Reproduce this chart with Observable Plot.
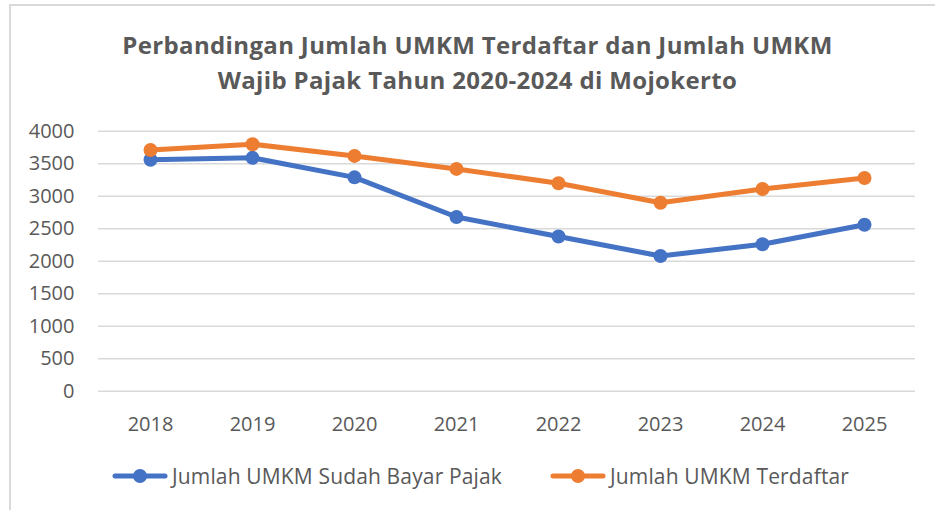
<!DOCTYPE html>
<html>
<head>
<meta charset="utf-8">
<script src="https://cdn.jsdelivr.net/npm/d3@7"></script>
<script src="https://cdn.jsdelivr.net/npm/@observablehq/plot@0.6"></script>
<style>
  html, body { margin: 0; padding: 0; background: #fff; }
  #wrap { position: relative; width: 935px; height: 510px; overflow: hidden; font-family: "Open Sans", sans-serif; }
  #frame { position: absolute; left: 9px; top: 4px; width: 1000px; height: 600px; border-left: 2px solid #d9d9d9; border-top: 2px solid #d9d9d9; box-sizing: border-box; }
  #title { position: absolute; left: 20px; top: 27px; width: 915px; text-align: center; font-weight: 700; font-size: 24px; letter-spacing: 0.35px; line-height: 35px; color: #595959; }
  #chart { position: absolute; left: 0; top: 110px; }
  .leg { position: absolute; top: 462px; height: 28px; display: flex; align-items: center; font-size: 21px; letter-spacing: 0.15px; color: #595959; white-space: nowrap; }
  .leg svg { display: block; margin-right: 4px; }
</style>
</head>
<body>
<div id="wrap">
  <div id="frame"></div>
  <div id="title">Perbandingan Jumlah UMKM Terdaftar dan Jumlah UMKM<br>Wajib Pajak Tahun 2020-2024 di Mojokerto</div>
  <div id="chart"></div>
  <div id="legend"></div>
</div>
<script>
const years = ["2018", "2019", "2020", "2021", "2022", "2023", "2024", "2025"];
const sudahBayar = [3560, 3590, 3290, 2680, 2380, 2080, 2260, 2560];
const terdaftar = [3710, 3800, 3620, 3420, 3200, 2900, 3110, 3280];
const yTicks = [0, 500, 1000, 1500, 2000, 2500, 3000, 3500, 4000];
const seriesNames = ["Jumlah UMKM Sudah Bayar Pajak", "Jumlah UMKM Terdaftar"];
const seriesColors = ["#4472C4", "#ED7D31"];

const rows = [];
years.forEach((y, i) => rows.push({year: y, value: sudahBayar[i], series: seriesNames[0]}));
years.forEach((y, i) => rows.push({year: y, value: terdaftar[i], series: seriesNames[1]}));

const chart = Plot.plot({
  width: 935,
  height: 340,
  marginLeft: 98,
  marginRight: 20,
  marginTop: 20.7,
  marginBottom: 59.3,
  style: {fontFamily: "Open Sans, sans-serif", fontSize: "20px", color: "#595959", background: "transparent"},
  x: {type: "point", domain: years, padding: 0.5, label: null},
  y: {domain: [0, 4000], label: null},
  color: {domain: seriesNames, range: seriesColors},
  marks: [
    Plot.ruleY(yTicks, {stroke: "#d9d9d9", strokeWidth: 1.6}),
    Plot.axisY(yTicks, {tickSize: 0, tickPadding: 24, fontSize: 20, fill: "#595959", label: null, tickFormat: d => String(d)}),
    Plot.axisX(years, {tickSize: 0, tickPadding: 25.8, fontSize: 20, fill: "#595959", label: null}),
    Plot.line(rows, {x: "year", y: "value", z: "series", stroke: "series", strokeWidth: 5, strokeLinejoin: "round", strokeLinecap: "round"}),
    Plot.dot(rows, {x: "year", y: "value", fill: "series", r: 7})
  ]
});
document.getElementById("chart").appendChild(chart);

const legend = document.getElementById("legend");
const legLefts = [112, 550];
seriesNames.forEach((name, i) => {
  const item = document.createElement("div");
  item.className = "leg";
  item.style.left = legLefts[i] + "px";
  item.innerHTML = `<svg width="56" height="20"><line x1="3" y1="10" x2="53" y2="10" stroke="${seriesColors[i]}" stroke-width="5" stroke-linecap="round"/><circle cx="28" cy="10" r="7" fill="${seriesColors[i]}"/></svg><span>${name}</span>`;
  legend.appendChild(item);
});
</script>
</body>
</html>
